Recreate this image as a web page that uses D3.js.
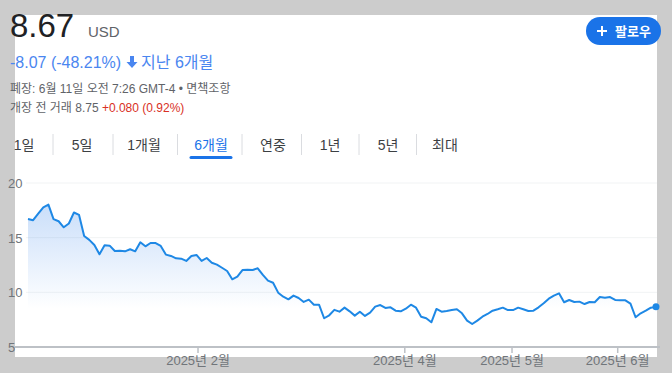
<!DOCTYPE html>
<html>
<head>
<meta charset="utf-8">
<script src="https://cdn.jsdelivr.net/npm/d3@7"></script>
<style>
  html, body { margin: 0; padding: 0; background: #cccccc; }
  svg { display: block; font-family: "Liberation Sans", Arial, "Noto Sans CJK KR", sans-serif; }
</style>
</head>
<body>
<svg id="chart" width="672" height="373"></svg>
<script>
// ---------- Data ----------
// daily closes, oldest -> newest (trading days, evenly spaced)
const prices = [
  16.71, 16.6, 17.2, 17.78, 18.02, 16.7, 16.5, 15.95, 16.3, 17.3,
  17.08, 15.15, 14.8, 14.33, 13.48, 14.3, 14.27, 13.78, 13.8, 13.75,
  13.94, 13.75, 14.58, 14.21, 14.51, 14.51, 14.24, 13.45, 13.33, 13.11,
  13.08, 12.87, 13.33, 13.42, 12.87, 13.14, 12.71, 12.53, 12.25, 11.95,
  11.19, 11.43, 12.04, 12.07, 12.04, 12.2, 11.59, 11.07, 10.88, 9.97,
  9.6, 9.36, 9.7, 9.48, 9.12, 9.33, 8.87, 8.87, 7.63, 7.9,
  8.4, 8.23, 8.6, 8.26, 7.87, 8.23, 7.84, 8.14, 8.69, 8.84,
  8.57, 8.63, 8.32, 8.26, 8.5, 8.87, 8.6, 7.77, 7.63, 7.26,
  8.48, 8.23, 8.29, 8.38, 8.45, 8.08, 7.41, 7.1, 7.41, 7.77,
  8.02, 8.32, 8.45, 8.6, 8.38, 8.38, 8.6, 8.45, 8.29, 8.32,
  8.63, 9.0, 9.42, 9.7, 9.91, 9.09, 9.3, 9.12, 9.15, 8.93,
  9.12, 9.09, 9.57, 9.51, 9.57, 9.3, 9.27, 9.27, 8.96, 7.72,
  8.08, 8.32, 8.6, 8.67
];

// month ticks: label + position in point-index units
const monthLabels = ["2025년 2월", "2025년 4월", "2025년 5월", "2025년 6월"];
const monthPos = [33.3, 73.8, 94.8, 115.5];

const yTicks = [5, 10, 15, 20];

const tabs = ["1일", "5일", "1개월", "6개월", "연중", "1년", "5년", "최대"];
const tabCenters = [24, 82, 144, 211, 273, 330, 388, 445];
const activeTab = "6개월";

// ---------- Layout ----------
const svg = d3.select("#chart");
const W = 672, H = 373;

// white card
svg.append("rect").attr("x", 15).attr("y", 15).attr("width", 642).attr("height", 342).attr("fill", "#fff");

// ---------- Header ----------
const hdr = svg.append("g");
hdr.append("text").attr("x", 10).attr("y", 37)
  .attr("font-size", 33).attr("fill", "#202124").text("8.67");
hdr.append("text").attr("x", 88).attr("y", 37)
  .attr("font-size", 15).attr("fill", "#5f6368").text("USD");

const chg = hdr.append("text").attr("x", 10).attr("y", 68)
  .attr("font-size", 16).attr("fill", "#4a86f0");
chg.append("tspan").text("-8.07 (-48.21%)");
// down arrow
hdr.append("path")
  .attr("d", "M130,56 h4 v6 h3.5 l-5.5,6 l-5.5,-6 h3.5 z")
  .attr("fill", "#4a86f0");
hdr.append("text").attr("x", 141).attr("y", 68)
  .attr("font-size", 16).attr("fill", "#4a86f0").text("지난 6개월");

hdr.append("text").attr("x", 10).attr("y", 93)
  .attr("font-size", 12).attr("fill", "#5f6368")
  .text("폐장: 6월 11일 오전 7:26 GMT-4 • 면책조항");

const pre = hdr.append("text").attr("x", 10).attr("y", 112)
  .attr("font-size", 12).attr("fill", "#5f6368");
pre.append("tspan").text("개장 전 거래 8.75 ");
pre.append("tspan").attr("fill", "#d93025").text("+0.080 (0.92%)");

// follow button
const btn = svg.append("g");
btn.append("rect").attr("x", 586).attr("y", 17).attr("width", 75).attr("height", 28)
  .attr("rx", 14).attr("fill", "#1a73e8");
btn.append("path").attr("d", "M597,31 h10 M602,26 v10")
  .attr("stroke", "#fff").attr("stroke-width", 2);
btn.append("text").attr("x", 615).attr("y", 36)
  .attr("font-size", 13).attr("font-weight", "bold").attr("fill", "#fff").text("팔로우");

// ---------- Tabs ----------
const tabG = svg.append("g");
tabG.selectAll("text.tab").data(tabs).join("text")
  .attr("class", "tab")
  .attr("x", (d, i) => tabCenters[i])
  .attr("y", 150)
  .attr("text-anchor", "middle")
  .attr("font-size", 14)
  .attr("fill", d => d === activeTab ? "#1a73e8" : "#3c4043")
  .text(d => d);
tabG.selectAll("line.sep").data(d3.range(tabs.length - 1)).join("line")
  .attr("class", "sep")
  .attr("x1", i => (tabCenters[i] + tabCenters[i + 1]) / 2)
  .attr("x2", i => (tabCenters[i] + tabCenters[i + 1]) / 2)
  .attr("y1", 134).attr("y2", 155)
  .attr("stroke", "#dadce0");
const ai = tabs.indexOf(activeTab);
tabG.append("line")
  .attr("x1", tabCenters[ai] - 20).attr("x2", tabCenters[ai] + 20)
  .attr("y1", 157.5).attr("y2", 157.5)
  .attr("stroke", "#1a73e8").attr("stroke-width", 3).attr("stroke-linecap", "round");

// ---------- Chart ----------
const x = d3.scaleLinear().domain([0, prices.length - 1]).range([28, 656]);
const y = d3.scaleLinear().domain([5, 20]).range([347, 183]);

// gridlines
svg.append("g").selectAll("line").data(yTicks.filter(v => v > 5)).join("line")
  .attr("x1", 26).attr("x2", 657)
  .attr("y1", d => y(d)).attr("y2", d => y(d))
  .attr("stroke", "#f1f3f4");

// y labels
svg.append("g").selectAll("text").data(yTicks).join("text")
  .attr("x", 8).attr("y", d => y(d) + 5)
  .attr("font-size", 13).attr("fill", "#70757a")
  .text(d => d);

// area gradient
const defs = svg.append("defs");
const grad = defs.append("linearGradient").attr("id", "fillGrad")
  .attr("gradientUnits", "userSpaceOnUse")
  .attr("x1", 0).attr("x2", 0).attr("y1", y(20)).attr("y2", y(8.5));
grad.append("stop").attr("offset", 0).attr("stop-color", "#1a73e8").attr("stop-opacity", 0.28);
grad.append("stop").attr("offset", 1).attr("stop-color", "#1a73e8").attr("stop-opacity", 0);

svg.append("path").datum(prices)
  .attr("fill", "url(#fillGrad)")
  .attr("d", d3.area().x((d, i) => x(i)).y0(y(5)).y1(d => y(d)));

// x axis
svg.append("line").attr("x1", 15).attr("x2", 660)
  .attr("y1", 347).attr("y2", 347)
  .attr("stroke", "#bdc1c6").attr("stroke-width", 2);
const xt = svg.append("g").selectAll("g").data(monthLabels).join("g")
  .attr("transform", (d, i) => `translate(${x(monthPos[i])},0)`);
xt.append("line").attr("y1", 347).attr("y2", 353).attr("stroke", "#bdc1c6").attr("stroke-width", 1.5);
xt.append("text").attr("y", 365).attr("text-anchor", "middle")
  .attr("font-size", 13).attr("fill", "#70757a").text(d => d);

// price line
svg.append("path").datum(prices)
  .attr("fill", "none")
  .attr("stroke", "#1e88e5")
  .attr("stroke-width", 2)
  .attr("stroke-linejoin", "round")
  .attr("d", d3.line().x((d, i) => x(i)).y(d => y(d)));

svg.append("circle")
  .attr("cx", x(prices.length - 1)).attr("cy", y(prices[prices.length - 1]))
  .attr("r", 3.5).attr("fill", "#1e88e5");
</script>
</body>
</html>
